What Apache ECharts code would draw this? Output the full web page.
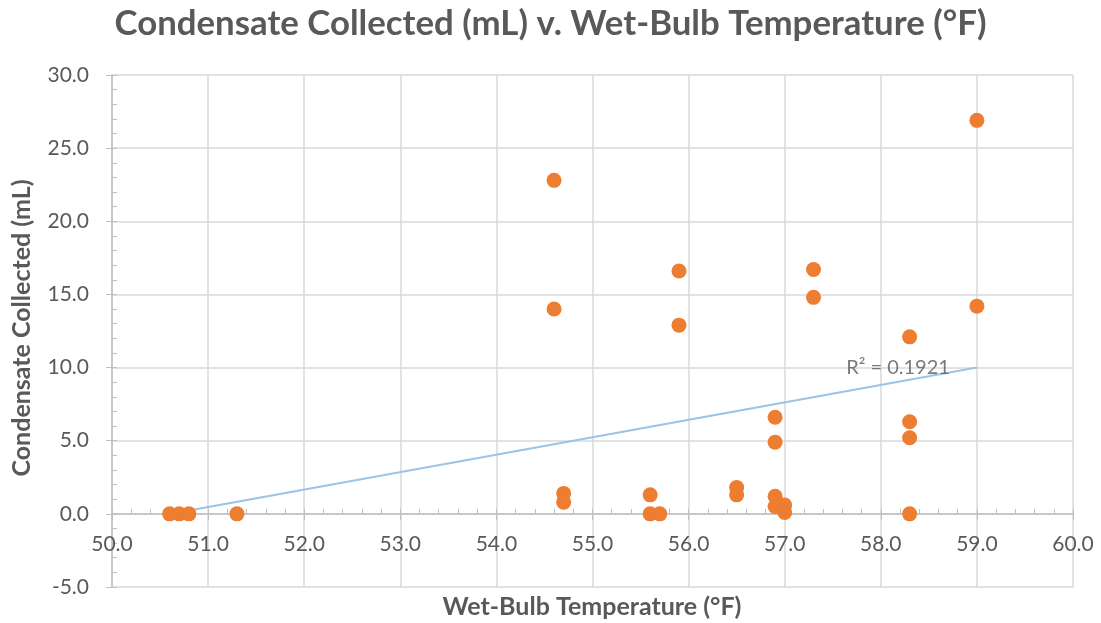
<!DOCTYPE html>
<html><head><meta charset="utf-8">
<script src="https://cdn.jsdelivr.net/npm/echarts@6/dist/echarts.min.js"></script>
<style>html,body{margin:0;padding:0;background:#fff}#c{width:1101px;height:623px}</style>
</head><body><div id="c"></div>
<script>
// Data
const wetBulbF = [50.6, 50.7, 50.8, 51.3, 54.6, 54.6, 54.7, 54.7, 55.6, 55.6, 55.7, 55.9, 55.9, 56.5, 56.5,
  56.9, 56.9, 56.9, 56.9, 57.0, 57.0, 57.3, 57.3, 58.3, 58.3, 58.3, 58.3, 59.0, 59.0];
const condensateML = [0, 0, 0, 0, 22.8, 14.0, 1.4, 0.8, 1.3, 0, 0, 16.6, 12.9, 1.8, 1.3,
  6.6, 4.9, 1.2, 0.5, 0.6, 0.1, 16.7, 14.8, 12.1, 6.3, 5.2, 0, 26.9, 14.2];
const xTickLabels = ['50.0','51.0','52.0','53.0','54.0','55.0','56.0','57.0','58.0','59.0','60.0'];
const yTickLabels = ['-5.0','0.0','5.0','10.0','15.0','20.0','25.0','30.0'];
const r2Text = 'R² = 0.1921';
const titleText = 'Condensate Collected (mL) v. Wet-Bulb Temperature (°F)';
const xTitle = 'Wet-Bulb Temperature (°F)';
const yTitle = 'Condensate Collected (mL)';

const X_MIN = 50, X_MAX = 60, Y_MIN = -5, Y_MAX = 30;

const points = wetBulbF.map((x, i) => [x, condensateML[i]]);
// least-squares linear trendline
const n = wetBulbF.length;
const mx = wetBulbF.reduce((a, b) => a + b, 0) / n;
const my = condensateML.reduce((a, b) => a + b, 0) / n;
let sxy = 0, sxx = 0;
for (let i = 0; i < n; i++) { sxy += (wetBulbF[i] - mx) * (condensateML[i] - my); sxx += (wetBulbF[i] - mx) ** 2; }
const slope = sxy / sxx, icpt = my - slope * mx;
const xLo = Math.min(...wetBulbF), xHi = Math.max(...wetBulbF);
const trend = [[xLo, icpt + slope * xLo], [xHi, icpt + slope * xHi]];

const FONT = 'Lato';
const GREY = '#595959';
const xLab = v => xTickLabels[Math.round(v - X_MIN)];
const yLab = v => yTickLabels[Math.round((v - Y_MIN) / 5)];

const W = 1101, H = 623;
const GRID = {left: 112, right: 28, top: 75, bottom: 36};
const plotH = H - GRID.top - GRID.bottom;
// x axis crosses at y = 0: shift it up from the grid bottom
const xOffset = -plotH * (0 - Y_MIN) / (Y_MAX - Y_MIN);

const chart = echarts.init(document.getElementById('c'), null, {renderer: 'canvas'});
chart.setOption({
  animation: false,
  backgroundColor: '#fff',
  grid: Object.assign({containLabel: false}, GRID),
  title: {text: titleText, left: 'center', top: 1,
    textStyle: {fontFamily: FONT, fontWeight: 'bold', fontSize: 34.8, color: GREY}},
  graphic: [
    {type: 'text', x: 592, y: 594, style: {text: xTitle, font: 'bold 25px Lato', fill: GREY, align: 'center', verticalAlign: 'top'}},
    {type: 'text', x: 9, y: 328, rotation: Math.PI / 2, style: {text: yTitle, font: 'bold 25px Lato', fill: GREY, align: 'center', verticalAlign: 'top'}}
  ],
  xAxis: [{
    type: 'value', min: X_MIN, max: X_MAX, interval: 1, position: 'bottom', offset: xOffset,
    axisLine: {onZero: false, lineStyle: {color: '#bfbfbf', width: 1.5}},
    axisTick: {show: true, inside: false, length: 6, lineStyle: {color: '#bfbfbf'}},
    minorTick: {show: false},
    splitLine: {show: true, lineStyle: {color: '#d9d9d9', width: 1.5}},
    axisLabel: {formatter: xLab, color: GREY, fontFamily: FONT, fontSize: 21, margin: 20, showMinLabel: true, showMaxLabel: true}
  }, {
    type: 'value', min: X_MIN, max: X_MAX, interval: 1, position: 'bottom', offset: xOffset,
    axisLine: {show: false, onZero: false},
    axisTick: {show: true, inside: true, length: 5, lineStyle: {color: '#bfbfbf'}},
    minorTick: {show: true, splitNumber: 5, length: 5, lineStyle: {color: '#bfbfbf'}},
    splitLine: {show: false}, axisLabel: {show: false}
  }],
  yAxis: [{
    type: 'value', min: Y_MIN, max: Y_MAX, interval: 5,
    axisLine: {show: true, onZero: false, lineStyle: {color: '#bfbfbf', width: 1.5}},
    axisTick: {show: true, inside: false, length: 6, lineStyle: {color: '#bfbfbf'}},
    splitLine: {show: true, lineStyle: {color: '#d9d9d9', width: 1.5}},
    axisLabel: {formatter: yLab, color: GREY, fontFamily: FONT, fontSize: 21, margin: 23}
  }, {
    type: 'value', min: Y_MIN, max: Y_MAX, interval: 5, position: 'left',
    axisLine: {show: false, onZero: false},
    axisTick: {show: true, inside: true, length: 5, lineStyle: {color: '#bfbfbf'}},
    minorTick: {show: true, splitNumber: 5, length: 5, lineStyle: {color: '#bfbfbf'}},
    splitLine: {show: false}, axisLabel: {show: false}
  }],
  series: [{
    type: 'line', xAxisIndex: 0, yAxisIndex: 0, data: trend, showSymbol: false, symbol: 'none',
    lineStyle: {color: '#9dc3e6', width: 2}, z: 2, silent: true
  }, {
    type: 'scatter', xAxisIndex: 0, yAxisIndex: 0, data: [trend[1]], symbolSize: 2,
    itemStyle: {color: 'rgba(0,0,0,0)'}, z: 4, silent: true,
    label: {show: true, position: 'left', distance: 26, formatter: r2Text, color: GREY, fontSize: 20, fontFamily: FONT}
  }, {
    type: 'scatter', xAxisIndex: 0, yAxisIndex: 0, data: points, symbolSize: 15,
    itemStyle: {color: '#ed7d31', opacity: 1}, z: 3
  }]
});
</script></body></html>
